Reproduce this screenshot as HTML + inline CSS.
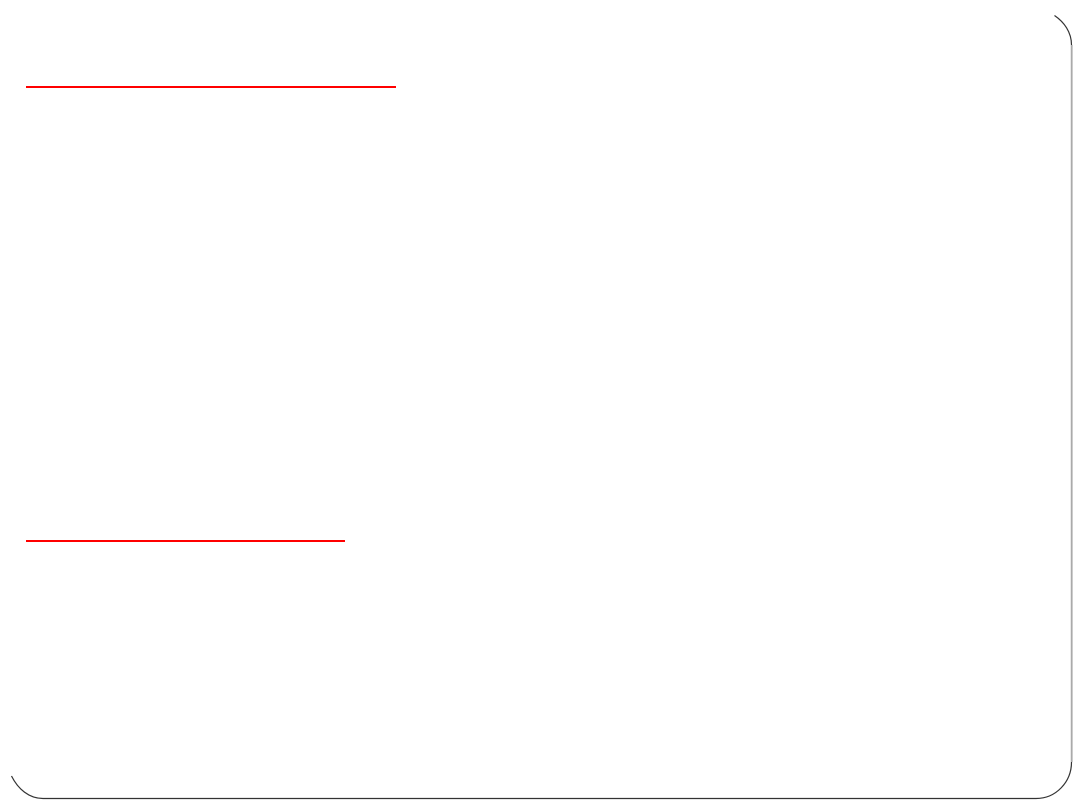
<!DOCTYPE html>
<html>
<head>
<meta charset="utf-8">
<style>
html,body{margin:0;padding:0;background:#fff;width:1080px;height:810px;overflow:hidden}
svg{display:block}
</style>
</head>
<body>
<svg width="1080" height="810" viewBox="0 0 1080 810" xmlns="http://www.w3.org/2000/svg">
<rect width="1080" height="810" fill="#fff"/>
<rect x="26" y="86" width="370" height="2" fill="#ff0000"/>
<rect x="26" y="540" width="319" height="2" fill="#ff0000"/>
<path d="M1054.5 15.5 C1064 22 1071.5 32 1071.5 45 L1071.5 762 C1071.5 782 1056 798.5 1036 798.5 L43 798.5 C29 798.5 18 789 11.5 776" fill="none" stroke="#333" stroke-width="1.2"/>
<rect x="1071" y="45" width="1.6" height="717" fill="#aaa"/>
</svg>
</body>
</html>
